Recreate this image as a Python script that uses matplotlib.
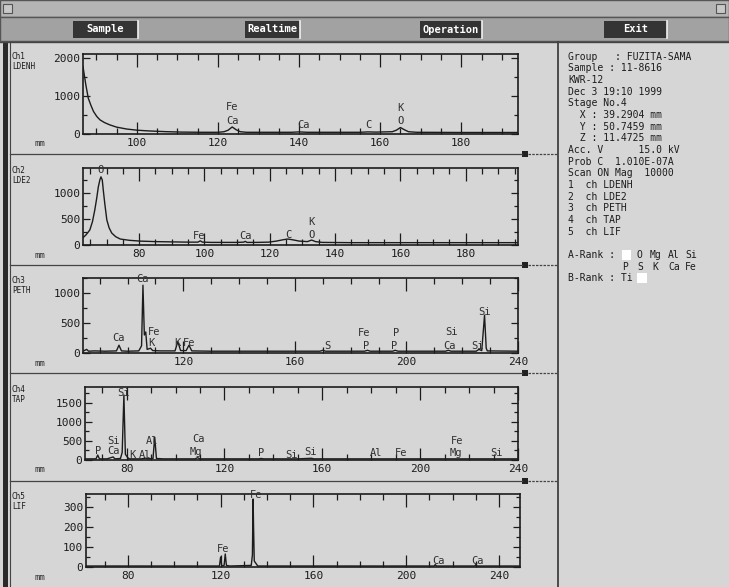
import matplotlib
matplotlib.use("Agg")
import matplotlib.pyplot as plt
from matplotlib.patches import Rectangle
from matplotlib.ticker import MultipleLocator, FixedLocator

MONO = "DejaVu Sans Mono"
INK = "#1c1c1c"
PANEL = "#d6d6d6"

# ---- spectra: spectrometer position (mm) against intensity (counts) ----
ch1_pos = [86.7, 87.4, 88.0, 88.7, 89.3, 90.1, 90.9, 92.0, 93.3, 95.0, 97.5, 100, 103, 107,
           111, 116, 120, 121.5, 122.5, 123.5, 124.5, 125.5, 127, 138, 140, 142, 155, 157,
           159, 163, 164, 165, 166, 167, 169, 180, 194]
ch1_cps = [1770, 1290, 940, 740, 590, 460, 370, 300, 240, 180, 130, 100, 80, 62,
           50, 45, 45, 60, 100, 185, 110, 60, 45, 45, 55, 45, 45, 55,
           50, 60, 100, 170, 110, 60, 45, 40, 40]

ch2_pos = [62.8, 63.8, 64.9, 65.7, 66.4, 67.0, 67.5, 68.0, 68.3, 68.7, 69.0, 69.5, 70.1,
           70.8, 71.6, 72.8, 74.2, 77, 80.3, 85, 95, 98, 98.7, 99.4, 102, 110, 112, 112.5,
           113, 116, 119.6, 122, 124, 125.5, 127, 129, 131.5, 132.8, 134, 136, 145, 160,
           180, 196]
ch2_cps = [140, 200, 290, 450, 670, 900, 1120, 1260, 1310, 1250, 1060, 780, 480,
           330, 230, 160, 115, 90, 75, 65, 55, 55, 80, 55, 50, 50, 55, 70,
           50, 50, 55, 75, 100, 115, 100, 75, 65, 95, 65, 50, 45, 45,
           45, 45]

ch3_pos = [84, 85.3, 86, 88, 92, 96, 96.9, 97.8, 100, 104, 105, 105.5, 106, 106.5, 107,
           108.2, 109, 112, 117, 118, 119, 121, 122, 123, 130, 150, 169, 170, 171, 185,
           186, 187, 195, 196, 197, 214, 215, 216, 225, 226, 227, 228, 228.6, 229, 240]
ch3_cps = [30, 60, 30, 35, 30, 35, 130, 35, 30, 35, 120, 1130, 300, 350, 60,
           80, 40, 35, 35, 190, 40, 40, 130, 35, 30, 30, 30, 45, 30, 30,
           45, 30, 30, 45, 30, 30, 45, 30, 30, 60, 40, 630, 80, 35, 30]

ch4_pos = [63, 66, 67.5, 68.2, 68.9, 72, 74.5, 75.2, 77.5, 78.2, 78.9, 79.5, 80.4, 81, 86,
           88, 88.5, 90.8, 91.5, 92.2, 95, 108, 109, 110, 134, 135, 136, 150, 155.6, 156.5,
           240]
ch4_cps = [30, 30, 30, 130, 30, 30, 80, 30, 40, 200, 1710, 150, 70, 30, 30,
           50, 30, 40, 600, 40, 30, 30, 60, 30, 30, 40, 30, 30, 45, 30,
           30]

ch5_pos = [62, 100, 119.5, 120, 120.5, 121.5, 122, 122.5, 124, 133.2, 133.7, 134.0, 134.2,
           134.5, 136, 212, 212.5, 213, 229.5, 230, 230.5, 249]
ch5_cps = [5, 5, 5, 50, 5, 8, 65, 8, 5, 8, 60, 340, 200,
           30, 5, 5, 12, 5, 5, 12, 5, 5]

# ---- element line labels: (position, height, symbol) ----
ch1_marks = [(123.5, 720, "Fe"), (123.5, 340, "Ca"), (141, 240, "Ca"), (157, 240, "C"),
             (165, 680, "K"), (165, 340, "O")]
ch2_marks = [(68.3, 1440, "O"), (98.5, 170, "Fe"), (112.5, 170, "Ca"), (125.7, 190, "C"),
             (132.8, 450, "K"), (132.8, 190, "O")]
ch3_marks = [(105.4, 1230, "Ca"), (96.7, 245, "Ca"), (109.4, 355, "Fe"), (108.6, 170, "K"),
             (117.8, 170, "K"), (122.1, 170, "Fe"), (171.6, 115, "S"), (184.8, 330, "Fe"),
             (185.7, 115, "P"), (196.4, 330, "P"), (195.5, 115, "P"), (216.2, 355, "Si"),
             (215.3, 115, "Ca"), (228, 690, "Si"), (225.3, 115, "Si")]
ch4_marks = [(78.6, 1770, "Si"), (74.5, 500, "Si"), (68.2, 240, "P"), (74.5, 240, "Ca"),
             (82.4, 130, "K"), (87.4, 130, "Al"), (90.5, 510, "Al"), (109.3, 540, "Ca"),
             (108.4, 200, "Mg"), (134.8, 180, "P"), (147.4, 130, "Si"), (155.1, 220, "Si"),
             (181.8, 180, "Al"), (192.1, 180, "Fe"), (215, 500, "Fe"), (214.6, 180, "Mg"),
             (231.4, 180, "Si")]
ch5_marks = [(135.3, 360, "Fe"), (121.2, 88, "Fe"), (214, 30, "Ca"), (230.8, 30, "Ca")]

# ---- axis ticks per channel ----
ch1_xticks = [100, 120, 140, 160, 180]
ch2_xticks = [80, 100, 120, 140, 160, 180]
ch3_xticks = [120, 160, 200, 240]
ch4_xticks = [80, 120, 160, 200, 240]
ch5_xticks = [80, 120, 160, 200, 240]
ch1_yticks = [0, 1000, 2000]
ch2_yticks = [0, 500, 1000]
ch3_yticks = [0, 500, 1000]
ch4_yticks = [0, 500, 1000, 1500]
ch5_yticks = [0, 100, 200, 300]

ch_names = ["Ch1\nLDENH", "Ch2\nLDE2", "Ch3\nPETH", "Ch4\nTAP", "Ch5\nLIF"]

info_lines = [
    "Group   : FUZITA-SAMA",
    "Sample : 11-8616",
    "KWR-12",
    "Dec 3 19:10 1999",
    "Stage No.4",
    "  X : 39.2904 mm",
    "  Y : 50.7459 mm",
    "  Z : 11.4725 mm",
    "Acc. V      15.0 kV",
    "Prob C  1.010E-07A",
    "Scan ON Mag  10000",
    "1  ch LDENH",
    "2  ch LDE2",
    "3  ch PETH",
    "4  ch TAP",
    "5  ch LIF",
]
menu_items = ["Sample", "Realtime", "Operation", "Exit"]

W, H = 729, 587
fig = plt.figure(figsize=(W / 100, H / 100), dpi=100, facecolor=PANEL)

# window chrome drawn in pixel coordinates
bg = fig.add_axes([0, 0, 1, 1], zorder=0)
bg.set_xlim(0, W)
bg.set_ylim(H, 0)
bg.axis("off")
bg.add_patch(Rectangle((0, 0), W, 17, facecolor="#b4b4b4", edgecolor="#555555", lw=1))
bg.add_patch(Rectangle((3, 4), 9, 9, facecolor="#c8c8c8", edgecolor="#555555", lw=0.8))
bg.add_patch(Rectangle((716, 4), 9, 9, facecolor="#c8c8c8", edgecolor="#555555", lw=0.8))
bg.add_patch(Rectangle((0, 17), W, 24, facecolor="#a2a2a2", edgecolor="#555555", lw=1))
for label, (x0, x1) in zip(menu_items, [(73, 138), (245, 300), (420, 482), (604, 667)]):
    bg.add_patch(Rectangle((x0, 21), x1 - x0, 17, facecolor="#343434", edgecolor="none"))
    bg.plot([x1, x1], [21, 38], color="#f2f2f2", lw=1.2)
    bg.text((x0 + x1) / 2, 29.5, label, ha="center", va="center", color="white",
            fontsize=7.5, fontweight="bold", family=MONO)
bg.add_patch(Rectangle((3, 42), 5, H - 42, facecolor="#2a2a2a", edgecolor="none"))
bg.plot([10, 10], [42, H], color="#444444", lw=0.8)
bg.plot([558, 558], [42, H], color="#333333", lw=1.2)
bg.plot([0, W], [42, 42], color="#444444", lw=1)
for sy in [154, 265, 373, 481]:
    bg.plot([10, 522], [sy, sy], color="#444444", lw=0.9)
    bg.plot([528, 558], [sy, sy], color="#444444", lw=0.9, ls=(0, (2, 1)))
    bg.add_patch(Rectangle((522, sy - 3), 6, 6, facecolor="#222222", edgecolor="none"))

# info panel on the right
for i, line in enumerate(info_lines):
    bg.text(568, 56.7 + i * 11.67, line, ha="left", va="center", fontsize=7,
            family=MONO, color=INK)
ya, yb, yc = 56.7 + 17 * 11.67, 56.7 + 18 * 11.67, 56.7 + 19 * 11.67
bg.text(568, ya, "A-Rank :", ha="left", va="center", fontsize=7, family=MONO, color=INK)
bg.add_patch(Rectangle((622, ya - 5), 9, 10, facecolor="white", edgecolor="none"))
for x, s in [(637, "O"), (650, "Mg"), (668, "Al"), (685, "Si")]:
    bg.text(x, ya, s, ha="left", va="center", fontsize=7, family=MONO, color=INK)
for x, s in [(622, "P"), (637, "S"), (652, "K"), (668, "Ca"), (685, "Fe")]:
    bg.text(x, yb, s, ha="left", va="center", fontsize=7, family=MONO, color=INK)
bg.text(568, yc, "B-Rank : Ti", ha="left", va="center", fontsize=7, family=MONO, color=INK)
bg.add_patch(Rectangle((637, yc - 5), 10, 10, facecolor="white", edgecolor="none"))

# spectrum panels: pixel boxes (left, top, right, bottom)
boxes = [(83, 54, 518, 134), (83, 168, 518, 245), (83, 278, 518, 353),
         (85, 387, 518, 460), (86, 494, 520, 567)]
xlims = [(86.7, 194), (62.8, 196), (84, 240), (63, 240), (62, 249)]
ylims = [(0, 2100), (0, 1480), (0, 1250), (0, 1920), (0, 365)]
xminor = [5, 5, 10, 10, 10]
yminor = [500, 250, 250, 250, 50]
spectra = [(ch1_pos, ch1_cps, ch1_marks, ch1_xticks, ch1_yticks),
           (ch2_pos, ch2_cps, ch2_marks, ch2_xticks, ch2_yticks),
           (ch3_pos, ch3_cps, ch3_marks, ch3_xticks, ch3_yticks),
           (ch4_pos, ch4_cps, ch4_marks, ch4_xticks, ch4_yticks),
           (ch5_pos, ch5_cps, ch5_marks, ch5_xticks, ch5_yticks)]

for k, (pos, cps, marks, xt, yt) in enumerate(spectra):
    l, t, r, b = boxes[k]
    ax = fig.add_axes([l / W, 1 - b / H, (r - l) / W, (b - t) / H], zorder=1)
    ax.set_facecolor("none")
    ax.plot(pos, cps, color=INK, lw=1.0)
    ax.set_xlim(*xlims[k])
    ax.set_ylim(*ylims[k])
    ax.xaxis.set_major_locator(FixedLocator(xt))
    ax.xaxis.set_minor_locator(MultipleLocator(xminor[k]))
    ax.yaxis.set_major_locator(FixedLocator(yt))
    ax.yaxis.set_minor_locator(MultipleLocator(yminor[k]))
    ax.set_xticklabels([str(v) for v in xt], family=MONO, fontsize=8, color=INK)
    ax.set_yticklabels([str(v) for v in yt], family=MONO, fontsize=8, color=INK)
    ax.tick_params(axis="x", which="both", direction="in", top=True, bottom=True,
                   color=INK, width=0.9, pad=3)
    ax.tick_params(axis="x", which="major", length=9)
    ax.tick_params(axis="x", which="minor", length=4)
    ax.tick_params(axis="y", which="both", direction="in", left=True, right=True,
                   color=INK, width=0.9, pad=2)
    ax.tick_params(axis="y", which="major", length=5)
    ax.tick_params(axis="y", which="minor", length=3)
    for sp in ax.spines.values():
        sp.set_color(INK)
        sp.set_linewidth(1.2)
    for x, y, s in marks:
        ax.text(x, y, s, ha="center", va="center", fontsize=7.5, family=MONO,
                color="#303030")
    bg.text(12, t - 2, ch_names[k], ha="left", va="top", fontsize=5.5, family=MONO,
            color=INK, linespacing=1.1)
    bg.text(40, b + 10, "mm", ha="center", va="center", fontsize=6.5, family=MONO,
            color="#333333")

fig.savefig("out.png", dpi=100, facecolor=PANEL)
